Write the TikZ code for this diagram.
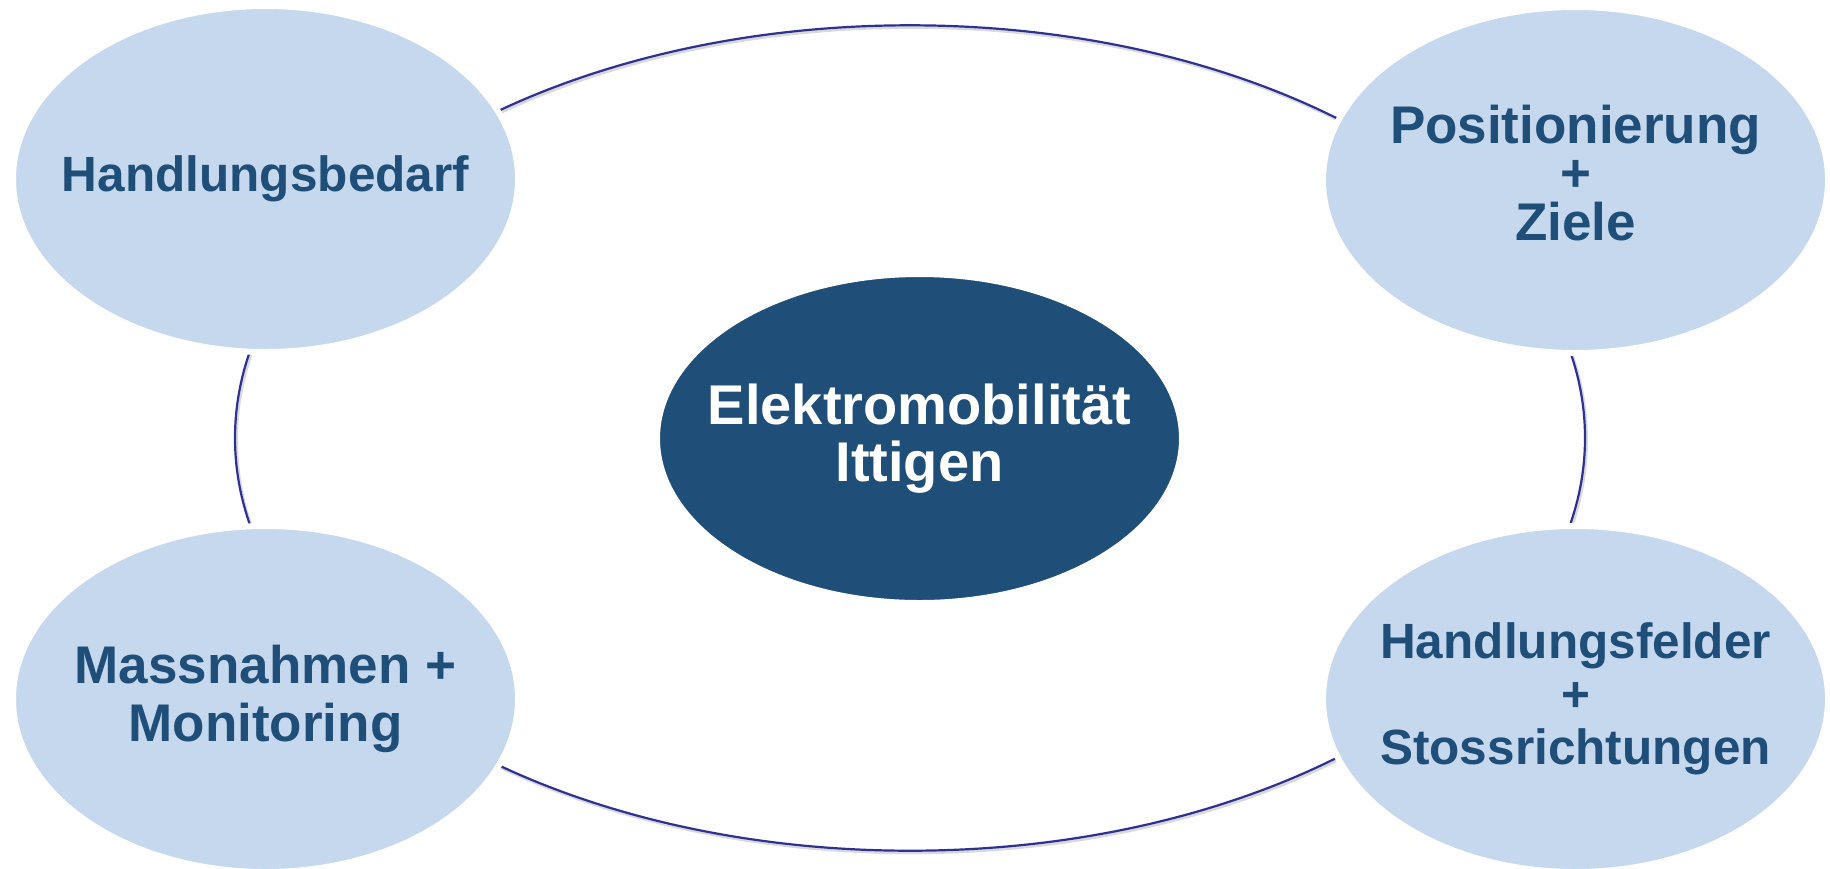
\documentclass[tikz,border=0pt]{standalone}
\usepackage{fontspec}
\setmainfont{Liberation Sans}
\usetikzlibrary{shapes.geometric}
\definecolor{lightblue}{RGB}{198,216,238}
\definecolor{darkblue}{RGB}{31,78,121}
\definecolor{ringblue}{RGB}{46,49,146}
\tikzset{bubble/.style={ellipse,fill=lightblue,draw=white,line width=6pt,inner xsep=-100pt,inner ysep=-40pt,minimum width=505pt,minimum height=346pt,align=center,text=darkblue,font=\bfseries\fontsize{49.5}{50}\selectfont},
hub/.style={bubble,fill=darkblue,text=white,minimum width=525pt,minimum height=329pt,font=\bfseries\fontsize{56}{57}\selectfont},
ring/.style={draw=ringblue,line width=2.2pt},ringshadow/.style={draw=black!15,line width=3pt}}
\begin{document}
\begin{tikzpicture}[x=1pt,y=-1pt]
\useasboundingbox(0,0)rectangle(1830,868);
\coordinate(mid)at(910,438);
\draw[ringshadow]([shift={(1.5,2)}]mid)ellipse[x radius=675,y radius=412.7];
\draw[ring](mid)ellipse[x radius=675,y radius=412.7];
\node[bubble](bedarf)at(265.5,179){Handlungsbedarf};
\node[bubble,font=\bfseries\fontsize{53}{48.5}\selectfont,text depth=15pt](ziele)at(1575.5,180){Positionierung\\+\\Ziele};
\node[bubble,font=\bfseries\fontsize{53}{58}\selectfont](massn)at(265.5,699){Massnahmen +\\Monitoring};
\node[bubble,font=\bfseries\fontsize{49.5}{53}\selectfont](felder)at(1575.5,699){Handlungsfelder\\+\\Stossrichtungen};
\node[hub](emob)at(919.5,438.5){Elektromobilität\\Ittigen};
\end{tikzpicture}
\end{document}
